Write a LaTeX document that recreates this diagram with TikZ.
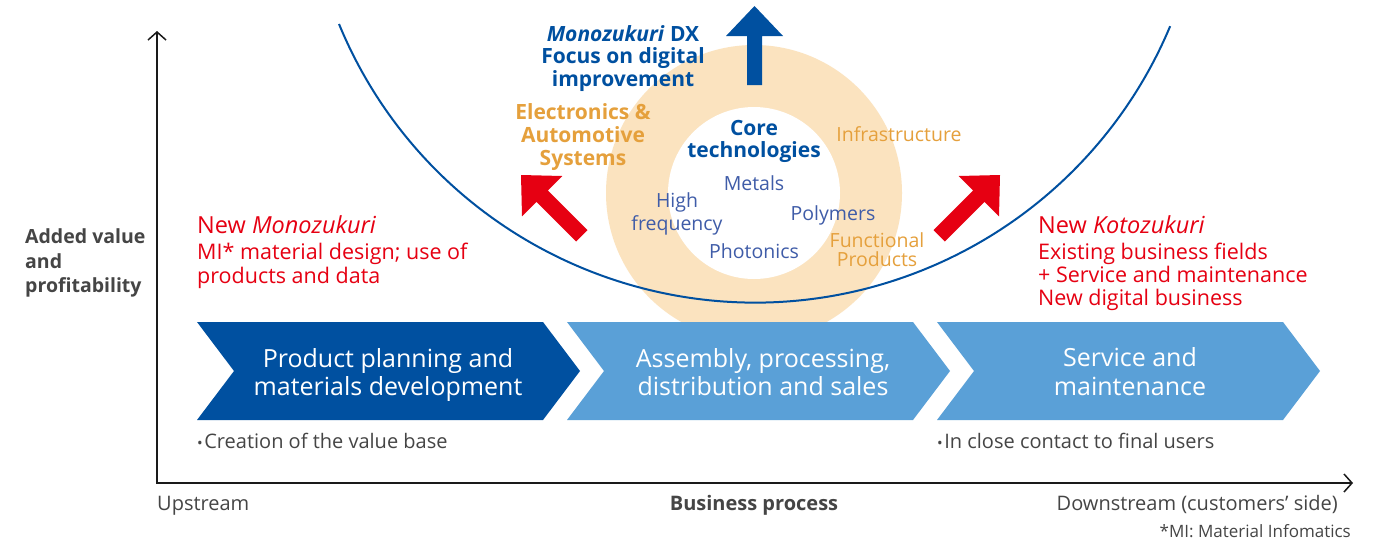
\documentclass[tikz,border=0pt]{standalone}
\usepackage{fontspec}
\setmainfont{Open Sans}
\usetikzlibrary{arrows.meta}
\definecolor{dblue}{HTML}{0050A0}
\definecolor{lblue}{HTML}{5AA0D7}
\definecolor{redc}{HTML}{E60012}
\definecolor{orng}{HTML}{E5A03C}
\definecolor{itemblue}{HTML}{3F5CA8}
\definecolor{ringc}{HTML}{FBE3BF}
\definecolor{grayt}{HTML}{454545}
\definecolor{axisc}{HTML}{1A1A1A}
\newcommand\fsz[1]{\fontsize{#1}{#1}\selectfont}
\newcommand\mychev[2]{\fill[#2] (#1,322) -- ({#1+346},322) -- ({#1+383},371) -- ({#1+346},420) -- (#1,420) -- ({#1+37},371) -- cycle;}
\tikzset{
  txt/.style={inner sep=0pt, anchor=base},
  txtl/.style={inner sep=0pt, anchor=base west},
  txtr/.style={inner sep=0pt, anchor=base east},
  redtxt/.style={txtl, text=redc, font=\fsz{21.5}},
  redhead/.style={txtl, text=redc, font=\fsz{23.5}},
  dxtxt/.style={txt, text=dblue, font=\fsz{21}\bfseries},
  orbold/.style={txt, text=orng, font=\fsz{21}\bfseries},
  ortxt/.style={txt, text=orng, font=\fsz{19.5}},
  itemtxt/.style={txt, text=itemblue, font=\fsz{19.5}},
  chevtxt/.style={txt, text=white, font=\fsz{25}},
  graytxt/.style={text=grayt, font=\fsz{20}},
}
\begin{document}
\begin{tikzpicture}[x=1pt,y=-1pt]
\useasboundingbox (0,0) rectangle (1386,542);
\fill[white] (0,0) rectangle (1386,542);
% ring
\fill[ringc] (754,193) circle[radius=148];
\fill[white] (754,193) circle[radius=86];
% U curve
\draw[dblue, line width=2pt] (339,24) arc[start angle=157.6, end angle=22.7, radius=450];
% blue up arrow
\fill[dblue] (754.5,6) -- (783,36) -- (762,36) -- (762,85) -- (747,85) -- (747,36) -- (726,36) -- cycle;
% red arrows
\fill[redc] (521,175) -- (562.4,176) -- (547.9,190.5) -- (587.5,230.1) -- (576.1,241.5) -- (536.5,201.9) -- (522,216.4) -- cycle;
\fill[redc] (1000,175) -- (958.6,176) -- (973.1,190.5) -- (933.5,230.1) -- (944.9,241.5) -- (984.5,201.9) -- (999,216.4) -- cycle;
% chevrons
\mychev{197}{dblue}
\mychev{567}{lblue}
\mychev{937}{lblue}
% axes
\coordinate (O) at (157,483);
\coordinate (Ytop) at (157,31);
\coordinate (Xend) at (1353,483);
\draw[axisc, line width=1.5pt, {Straight Barb[length=8pt,width=18pt]}-{Straight Barb[length=8pt,width=18pt]}] (Ytop) -- (O) -- (Xend);
% y axis label
\node[txtl, text=grayt, font=\fsz{19.5}\bfseries] (av1) at (25,243) {Added value};
\node[txtl, text=grayt, font=\fsz{19.5}\bfseries] (av2) at (25,268) {and};
\node[txtl, text=grayt, font=\fsz{19.5}\bfseries] (av3) at (25,292) {profitability};
% New Monozukuri
\node[redhead] (nm1) at (197,233) {New \emph{Monozukuri}};
\node[redtxt] (nm2) at (197,259) {MI* material design; use of};
\node[redtxt] (nm3) at (197,283) {products and data};
% New Kotozukuri
\node[redhead] (nk1) at (1038,233) {New \emph{Kotozukuri}};
\node[redtxt] (nk2) at (1038,259) {Existing business fields};
\node[redtxt] (nk3) at (1038,282) {+ Service and maintenance};
\node[redtxt] (nk4) at (1038,305) {New digital business};
% DX
\node[dxtxt] (dx1) at (623,41) {\emph{Monozukuri} DX};
\node[dxtxt] (dx2) at (623,63) {Focus on digital};
\node[dxtxt] (dx3) at (623,86) {improvement};
% Electronics
\node[orbold] (el1) at (583,119) {Electronics \&};
\node[orbold] (el2) at (583,142) {Automotive};
\node[orbold] (el3) at (583,165) {Systems};
% core
\node[dxtxt] (co1) at (754,135) {Core};
\node[dxtxt] (co2) at (754,157) {technologies};
\node[itemtxt] (met) at (754,190) {Metals};
\node[itemtxt] (hi1) at (677,207) {High};
\node[itemtxt] (hi2) at (677,230) {frequency};
\node[itemtxt] (pol) at (833,220) {Polymers};
\node[itemtxt] (pho) at (754,258) {Photonics};
\node[ortxt] (inf) at (899,141) {Infrastructure};
\node[ortxt] (fp1) at (877,247) {Functional};
\node[ortxt] (fp2) at (877,266) {Products};
% chevron texts
\node[chevtxt] (c1a) at (388,367) {Product planning and};
\node[chevtxt] (c1b) at (388,395) {materials development};
\node[chevtxt] (c2a) at (763,367) {Assembly, processing,};
\node[chevtxt] (c2b) at (763,395) {distribution and sales};
\node[chevtxt] (c3a) at (1130,366) {Service and};
\node[chevtxt] (c3b) at (1130,395) {maintenance};
% bullets
\node[txtl, graytxt] (b1) at (197,448) {{\fsz{15}•}\hspace{1.5pt}Creation of the value base};
\node[txtl, graytxt] (b2) at (937,448) {{\fsz{15}•}\hspace{1.5pt}In close contact to final users};
% axis labels
\node[txtl, graytxt] (up) at (157,510) {Upstream};
\node[txt, graytxt, font=\fsz{20}\bfseries] (bp) at (754,510) {Business process};
\node[txtr, graytxt] (down) at (1338,510) {Downstream (customers’ side)};
\node[txtr, text=grayt, font=\fsz{17}] (mi) at (1351,537) {*MI: Material Infomatics};
\end{tikzpicture}
\end{document}
